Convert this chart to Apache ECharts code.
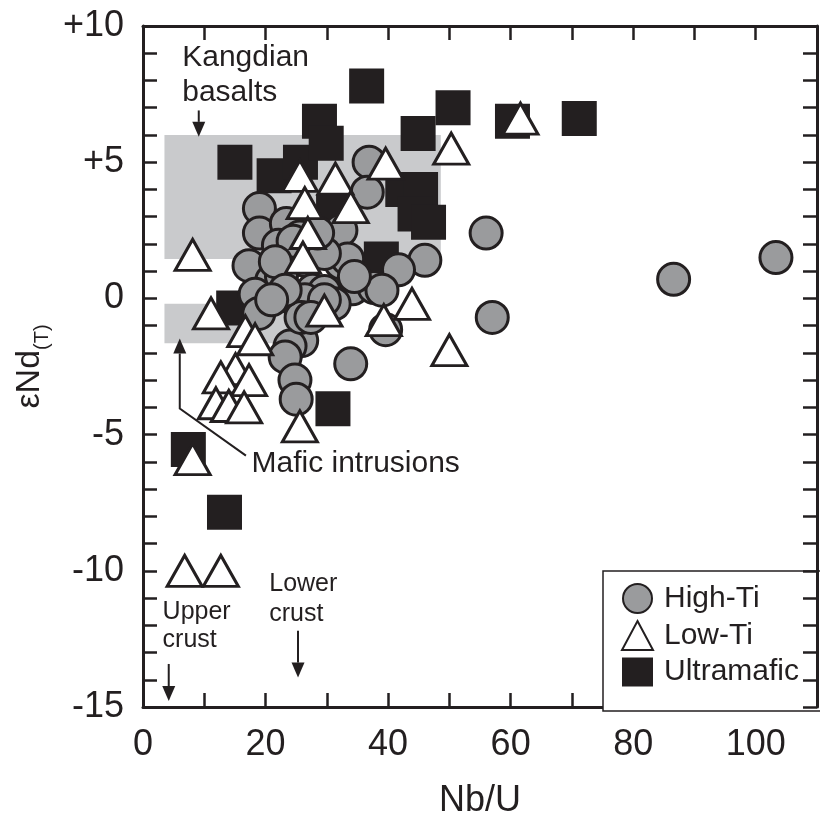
<!DOCTYPE html>
<html>
<head>
<meta charset="utf-8">
<title>εNd(T) vs Nb/U</title>
<script src="https://cdn.jsdelivr.net/npm/echarts@6/dist/echarts.min.js"></script>
<style>
  html, body { margin: 0; padding: 0; background: #fff; }
  #chart { width: 820px; height: 829px; }
</style>
</head>
<body>
<div id="chart"></div>
<script>
// 数据部分
var highTi = [
  [19.0, 3.3], [19.0, 2.4], [17.3, 1.2], [23.4, 2.75], [25.6, 2.25], [21.0, 0.65],
  [18.3, 0.15], [18.9, -0.55], [26.4, 1.4], [24.8, -0.05], [22.6, 0.8], [28.5, 0.2],
  [27.7, 0.3], [34.2, 0.35], [29.6, 0.25], [36.9, 5.0], [36.6, 3.9], [32.3, 2.5],
  [46.0, 1.4], [41.7, 1.05], [39.6, -1.15], [33.9, -2.4], [25.9, -1.55], [24.0, -1.75],
  [23.2, -2.15], [24.8, -3.0], [25.0, -3.7], [56.0, 2.4], [57.0, -0.7], [86.6, 0.7],
  [103.3, 1.5], [32.3, 1.3], [27.4, 1.95], [33.4, 1.45], [37.7, 0.4], [39.0, 0.3],
  [31.2, -0.2], [26.4, -0.05], [25.8, -0.7], [29.6, 1.65], [22.1, 1.95], [24.5, 2.1],
  [21.6, 1.35], [34.5, 0.8], [29.6, -0.05], [23.2, 0.3], [21.0, -0.05], [28.5, 2.4],
  [27.4, -0.7]
];
var lowTi = [
  [8.1, 1.6], [25.6, 4.5], [31.4, 4.4], [39.6, 4.95], [50.3, 5.5], [61.6, 6.6],
  [33.9, 3.35], [26.4, 3.5], [26.9, 2.4], [26.1, 1.5], [43.9, -0.2], [11.1, -0.55],
  [16.7, -1.2], [18.3, -1.5], [15.1, -2.6], [12.7, -2.9], [17.3, -3.0], [11.9, -3.85],
  [14.0, -3.95], [16.5, -4.0], [8.1, -5.9], [25.6, -4.7], [50.0, -1.9], [6.8, -10.0],
  [12.7, -10.0], [39.3, -0.8], [29.6, -0.45]
];
var ultramafic = [
  [15.0, 5.0], [21.4, 4.5], [25.7, 5.0], [28.8, 6.5], [29.9, 5.7], [36.5, 7.8],
  [44.9, 6.05], [50.6, 7.0], [31.1, 3.15], [42.4, 4.0], [45.3, 4.0], [44.4, 3.1],
  [46.6, 2.8], [38.9, 1.45], [60.3, 6.5], [71.2, 6.6], [14.8, -0.35], [31.0, -4.05],
  [7.4, -5.55], [13.3, -7.85]
];
var xTickLabels = [0, 20, 40, 60, 80, 100];
var yTickLabels = [-15, -10, -5, 0, 5, 10];
// 阴影区 [左上, 右下]
var kangdianArea = [[3.5, 6.0], [48.6, 1.45]];
var maficArea = [[3.5, -0.2], [24, -1.65]];

// 注释文字和箭头
var noteTexts = [
  { text: 'Kangdian', at: [6.4, 8.82], size: 30 },
  { text: 'basalts', at: [6.4, 7.54], size: 30 },
  { text: 'Mafic intrusions', at: [17.7, -6.07], size: 30 },
  { text: 'Upper', at: [3.2, -11.5], size: 25 },
  { text: 'crust', at: [3.2, -12.55], size: 25 },
  { text: 'Lower', at: [20.6, -10.5], size: 25 },
  { text: 'crust', at: [20.6, -11.58], size: 25 }
];
var noteArrows = [
  [[9.1, 6.9], [9.1, 5.93]],
  [[16.8, -5.77], [6.0, -4.04], [6.0, -1.47]],
  [[4.2, -13.42], [4.2, -14.78]],
  [[25.3, -12.2], [25.3, -13.92]]
];

var ink = '#231f20';
var font = '"Liberation Sans", Arial, Helvetica, sans-serif';

function axisBase() {
  return {
    axisLine: { show: true, onZero: false, lineStyle: { color: ink, width: 3 } },
    axisTick: { show: true, inside: true, length: 14, lineStyle: { color: ink, width: 2.5 } },
    splitLine: { show: false }
  };
}

var chart = echarts.init(document.getElementById('chart'));

var xBottom = Object.assign(axisBase(), {
  type: 'value', min: 0, max: 110, interval: 10, position: 'bottom',
  name: 'Nb/U', nameLocation: 'middle', nameGap: 76,
  nameTextStyle: { fontSize: 36, color: ink, fontFamily: font },
  axisLabel: {
    margin: 20, fontSize: 36, color: ink, fontFamily: font,
    formatter: function (v) { return xTickLabels.indexOf(v) >= 0 ? String(v) : ''; }
  }
});
var xTop = Object.assign(axisBase(), {
  type: 'value', min: 0, max: 110, interval: 10, position: 'top',
  axisLabel: { show: false }
});
var yLeft = Object.assign(axisBase(), {
  type: 'value', min: -15, max: 10, interval: 1, position: 'left',
  name: '{e|εNd}{s|(T)}', nameLocation: 'middle', nameGap: 78, nameRotate: 90,
  nameTextStyle: {
    color: ink, fontFamily: font,
    rich: {
      e: { fontSize: 34, lineHeight: 44, color: ink, fontFamily: font, verticalAlign: 'middle' },
      s: { fontSize: 20, lineHeight: 22, color: ink, fontFamily: font, verticalAlign: 'bottom' }
    }
  },
  axisLabel: {
    margin: 19, fontSize: 36, color: ink, fontFamily: font,
    formatter: function (v) {
      if (yTickLabels.indexOf(v) < 0) return '';
      return v > 0 ? '+' + v : String(v);
    }
  }
});
var yRight = Object.assign(axisBase(), {
  type: 'value', min: -15, max: 10, interval: 1, position: 'right', z: 6,
  axisLabel: { show: false }
});

var option = {
  animation: false,
  backgroundColor: '#fff',
  grid: { left: 143, top: 26, width: 682, height: 681, containLabel: false },
  xAxis: [xBottom, xTop],
  yAxis: [yLeft, yRight],
  legend: {
    data: ['High-Ti', 'Low-Ti', 'Ultramafic'],
    orient: 'vertical',
    left: 603, top: 571,
    itemWidth: 31, itemHeight: 29, itemGap: 6,
    padding: [12, 30, 24, 18],
    borderColor: ink, borderWidth: 1.5, backgroundColor: '#fff',
    selectedMode: false,
    textStyle: { fontSize: 30, color: ink, fontFamily: font, padding: [0, 0, 0, 6] }
  },
  series: [
    {
      name: 'regions',
      type: 'scatter',
      data: [],
      silent: true,
      z: 1,
      markArea: {
        silent: true,
        itemStyle: { color: '#c9cacc', opacity: 1 },
        data: [
          [{ coord: kangdianArea[0] }, { coord: kangdianArea[1] }],
          [{ coord: maficArea[0] }, { coord: maficArea[1] }]
        ]
      }
    },
    {
      name: 'Ultramafic',
      type: 'scatter',
      symbol: 'rect',
      symbolSize: 35,
      itemStyle: { color: ink, opacity: 1 },
      emphasis: { disabled: true },
      data: ultramafic,
      z: 2
    },
    {
      name: 'High-Ti',
      type: 'scatter',
      symbol: 'circle',
      symbolSize: 32,
      itemStyle: { color: '#9a9b9d', borderColor: ink, borderWidth: 3, opacity: 1 },
      emphasis: { disabled: true },
      data: highTi,
      z: 2
    },
    {
      name: 'Low-Ti',
      type: 'scatter',
      symbol: 'triangle',
      symbolSize: [35, 31],
      itemStyle: { color: '#fff', borderColor: ink, borderWidth: 3, borderJoin: 'miter', opacity: 1 },
      emphasis: { disabled: true },
      data: lowTi,
      z: 2
    }
  ]
};
chart.setOption(option);

// 注释：用坐标系换算成像素
function toPx(p) {
  return chart.convertToPixel({ xAxisIndex: 0, yAxisIndex: 0 }, p);
}

function arrowGraphics(pts) {
  var px = pts.map(toPx);
  var tip = px[px.length - 1];
  var prev = px[px.length - 2];
  var dx = tip[0] - prev[0], dy = tip[1] - prev[1];
  var len = Math.sqrt(dx * dx + dy * dy);
  var ux = dx / len, uy = dy / len;
  var headLen = 15, headW = 6.5;
  var base = [tip[0] - ux * headLen, tip[1] - uy * headLen];
  var linePts = px.slice(0, -1).concat([base]);
  return [
    {
      type: 'polyline', silent: true, z: 10,
      shape: { points: linePts },
      style: { stroke: ink, lineWidth: 2, fill: null }
    },
    {
      type: 'polygon', silent: true, z: 10,
      shape: { points: [tip, [base[0] - uy * headW, base[1] + ux * headW], [base[0] + uy * headW, base[1] - ux * headW]] },
      style: { fill: ink }
    }
  ];
}

var graphics = [];
noteTexts.forEach(function (n) {
  var p = toPx(n.at);
  graphics.push({
    type: 'text', silent: true, z: 10,
    x: p[0], y: p[1],
    style: { text: n.text, fill: ink, font: n.size + 'px ' + font, textAlign: 'left', textVerticalAlign: 'middle', verticalAlign: 'middle' }
  });
});
noteArrows.forEach(function (a) {
  graphics = graphics.concat(arrowGraphics(a));
});
chart.setOption({ graphic: graphics });
</script>
</body>
</html>
